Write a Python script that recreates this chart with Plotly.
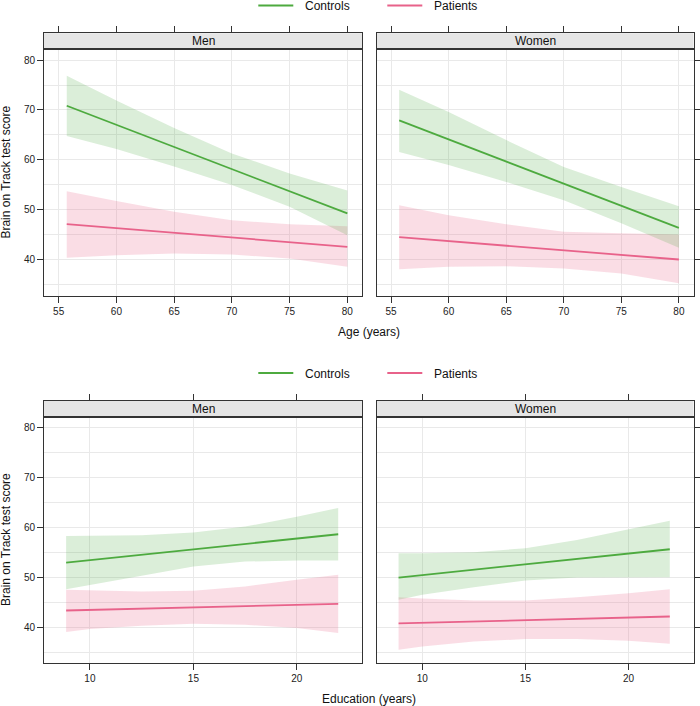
import plotly.graph_objects as go

W, H = 700, 706
FONT = "Liberation Sans, Arial, sans-serif"
GREEN = "#4DAA3F"
PINK = "#E8628A"
GREEN_FILL = "rgba(77,170,63,0.20)"
PINK_FILL = "rgba(232,98,138,0.22)"

groups = ["\u00a0\u00a0Controls", "\u00a0\u00a0Patients"]
sexes = ["Men", "Women"]

# ---- Age panels ----
age_grid = [55.7, 60, 65, 70, 75, 80]
age_line_x = [55.7, 80]
age_men_ctrl_line = [70.84, 49.28]
age_men_ctrl_up = [76.85, 71.9, 66.4, 61.3, 57.3, 53.9]
age_men_ctrl_lo = [64.8, 62.2, 58.7, 55.0, 50.6, 44.9]
age_men_pat_line = [47.13, 42.6]
age_men_pat_up = [53.75, 51.75, 49.6, 47.9, 47.1, 46.7]
age_men_pat_lo = [40.4, 40.9, 41.25, 41.05, 40.25, 38.6]
age_wom_ctrl_line = [67.9, 46.4]
age_wom_ctrl_up = [74.05, 69.6, 63.97, 58.6, 54.6, 50.74]
age_wom_ctrl_lo = [61.6, 59.0, 55.6, 51.9, 47.3, 42.4]
age_wom_pat_line = [44.53, 40.06]
age_wom_pat_up = [50.9, 48.9, 47.1, 45.6, 45.3, 45.07]
age_wom_pat_lo = [38.1, 38.6, 38.7, 38.25, 37.25, 35.3]

# ---- Education panels ----
edu_grid = [8.85, 10, 12.5, 15, 17.5, 20, 22]
edu_line_x = [8.85, 22]
edu_men_ctrl_line = [52.93, 58.6]
edu_men_ctrl_up = [58.27, 58.27, 58.4, 58.93, 60.13, 62.13, 63.87]
edu_men_ctrl_lo = [47.6, 48.47, 50.27, 52.13, 53.13, 53.33, 53.33]
edu_men_pat_line = [43.33, 44.67]
edu_men_pat_up = [47.47, 47.33, 47.13, 47.27, 48.13, 49.47, 50.47]
edu_men_pat_lo = [39.0, 39.6, 40.27, 40.67, 40.47, 39.8, 38.8]
edu_wom_ctrl_line = [49.93, 55.6]
edu_wom_ctrl_up = [54.8, 54.8, 55.0, 55.8, 57.47, 59.6, 61.33]
edu_wom_ctrl_lo = [45.47, 46.47, 48.0, 49.33, 49.93, 50.0, 50.0]
edu_wom_pat_line = [40.73, 42.13]
edu_wom_pat_up = [46.0, 45.73, 45.33, 45.33, 46.0, 46.8, 47.6]
edu_wom_pat_lo = [35.47, 36.13, 37.13, 37.6, 37.6, 37.27, 36.67]

age_ticks = [55, 60, 65, 70, 75, 80]
edu_ticks = [10, 15, 20]
y_ticks = [40, 50, 60, 70, 80]

def px(x):
    return x / W

def py(y):
    return 1 - y / H

fig = go.Figure()

panels = [
    (1, age_grid, age_line_x, [(age_men_ctrl_line, age_men_ctrl_up, age_men_ctrl_lo),
                               (age_men_pat_line, age_men_pat_up, age_men_pat_lo)], "legend", True),
    (2, age_grid, age_line_x, [(age_wom_ctrl_line, age_wom_ctrl_up, age_wom_ctrl_lo),
                               (age_wom_pat_line, age_wom_pat_up, age_wom_pat_lo)], "legend", False),
    (3, edu_grid, edu_line_x, [(edu_men_ctrl_line, edu_men_ctrl_up, edu_men_ctrl_lo),
                               (edu_men_pat_line, edu_men_pat_up, edu_men_pat_lo)], "legend2", True),
    (4, edu_grid, edu_line_x, [(edu_wom_ctrl_line, edu_wom_ctrl_up, edu_wom_ctrl_lo),
                               (edu_wom_pat_line, edu_wom_pat_up, edu_wom_pat_lo)], "legend2", False),
]

colors = [GREEN, PINK]
fills = [GREEN_FILL, PINK_FILL]

for idx, grid, lx, series, leg, show in panels:
    xa = "x" if idx == 1 else f"x{idx}"
    ya = "y" if idx == 1 else f"y{idx}"
    for gi in [1, 0]:
        line, up, lo = series[gi]
        fig.add_trace(go.Scatter(
            x=list(grid) + list(grid)[::-1], y=list(up) + list(lo)[::-1],
            fill="toself", fillcolor=fills[gi], line=dict(width=0),
            mode="lines", hoverinfo="skip", showlegend=False,
            xaxis=xa, yaxis=ya))
    for gi in [0, 1]:
        line, up, lo = series[gi]
        fig.add_trace(go.Scatter(
            x=lx, y=line, mode="lines", line=dict(color=colors[gi], width=1.8),
            name=groups[gi], showlegend=show, legend=leg,
            xaxis=xa, yaxis=ya))

L = [px(44), px(362)]
R = [px(376.5), px(693.5)]
TOP = [py(296), py(49.3)]
BOT = [py(663.3), py(416.7)]
STRIP_TOP = [py(49.3), py(33.3)]
STRIP_BOT = [py(416.7), py(401)]

AX = "#333333"
GRID = "#e9e9e9"
tickfont = dict(family=FONT, size=10, color="#222222")

def xaxis(domain, rng, ticks, anchor):
    return dict(domain=domain, range=rng, tickvals=ticks, ticks="outside", ticklen=6,
                tickcolor=AX, showline=True, linecolor=AX, linewidth=1, mirror=True,
                showgrid=True, gridcolor=GRID, gridwidth=1, zeroline=False,
                tickfont=tickfont, anchor=anchor, fixedrange=True)

def yaxis(domain, anchor, side, labels):
    return dict(domain=domain, range=[32.75, 82.15], tickvals=y_ticks, ticks="outside",
                ticklen=6, tickcolor=AX, showline=True, linecolor=AX, linewidth=1,
                mirror=True, showgrid=True, gridcolor=GRID, gridwidth=1, zeroline=False,
                minor=dict(dtick=5, tick0=0, showgrid=True, gridcolor=GRID, gridwidth=1, ticks=""),
                tickfont=tickfont, side=side, showticklabels=labels, anchor=anchor,
                fixedrange=True)

age_rng = [53.73, 81.27]
edu_rng = [7.78, 23.15]

layout = dict(
    width=W, height=H, margin=dict(l=0, r=0, t=0, b=0, autoexpand=False),
    paper_bgcolor="white", plot_bgcolor="white",
    font=dict(family=FONT, size=12, color="#222222"),
    xaxis=xaxis(L, age_rng, age_ticks, "y"),
    xaxis2=xaxis(R, age_rng, age_ticks, "y2"),
    xaxis3=xaxis(L, edu_rng, edu_ticks, "y3"),
    xaxis4=xaxis(R, edu_rng, edu_ticks, "y4"),
    yaxis=yaxis(TOP, "x", "left", True),
    yaxis2=yaxis(TOP, "x2", "right", False),
    yaxis3=yaxis(BOT, "x3", "left", True),
    yaxis4=yaxis(BOT, "x4", "right", False),
)

# strip subplots: their x axes carry the top tick marks above each strip
strip_defs = [(L, STRIP_TOP, age_rng, age_ticks, "Men"),
              (R, STRIP_TOP, age_rng, age_ticks, "Women"),
              (L, STRIP_BOT, edu_rng, edu_ticks, "Men"),
              (R, STRIP_BOT, edu_rng, edu_ticks, "Women")]
for i, (xd, yd, rng, ticks, label) in enumerate(strip_defs):
    n = 5 + i
    layout[f"xaxis{n}"] = dict(domain=xd, range=rng, tickvals=ticks, side="top",
                               ticks="outside", ticklen=6, tickcolor=AX,
                               showticklabels=False, showline=True, linecolor=AX,
                               linewidth=1, mirror=True, showgrid=False, zeroline=False,
                               anchor=f"y{n}", fixedrange=True)
    layout[f"yaxis{n}"] = dict(domain=yd, range=[0, 1], showticklabels=False, ticks="",
                               showline=True, linecolor=AX, linewidth=1, mirror=True,
                               showgrid=False, zeroline=False, anchor=f"x{n}",
                               fixedrange=True)

fig.update_layout(**layout)

shapes = []
annots = []
for i, (xd, yd, rng, ticks, label) in enumerate(strip_defs):
    n = 5 + i
    shapes.append(dict(type="rect", xref=f"x{n} domain", yref=f"y{n} domain",
                       x0=0, x1=1, y0=0, y1=1, fillcolor="#e5e5e5",
                       line=dict(width=0), layer="below"))
    fig.add_trace(go.Scatter(x=[rng[0]], y=[0.5], mode="markers",
                             marker=dict(opacity=0), showlegend=False, hoverinfo="skip",
                             xaxis=f"x{n}", yaxis=f"y{n}"))
    annots.append(dict(xref=f"x{n} domain", yref=f"y{n} domain", x=0.5, y=0.5,
                       text=label, showarrow=False,
                       font=dict(family=FONT, size=12, color="#111"),
                       xanchor="center", yanchor="middle"))

annots += [
    dict(xref="paper", yref="paper", x=px(368.5), y=py(331.5), text="Age (years)",
         showarrow=False, font=dict(family=FONT, size=12, color="#111"),
         xanchor="center", yanchor="middle"),
    dict(xref="paper", yref="paper", x=px(368.5), y=py(698.5), text="Education (years)",
         showarrow=False, font=dict(family=FONT, size=12, color="#111"),
         xanchor="center", yanchor="middle"),
    dict(xref="paper", yref="paper", x=px(6), y=py(172.6), text="Brain on Track test score",
         showarrow=False, textangle=-90, font=dict(family=FONT, size=12, color="#111"),
         xanchor="center", yanchor="middle"),
    dict(xref="paper", yref="paper", x=px(6), y=py(540), text="Brain on Track test score",
         showarrow=False, textangle=-90, font=dict(family=FONT, size=12, color="#111"),
         xanchor="center", yanchor="middle"),
]

leg_common = dict(orientation="h", xanchor="left", yanchor="middle",
                  font=dict(family=FONT, size=12, color="#111"), bgcolor="rgba(0,0,0,0)",
                  entrywidth=79, entrywidthmode="pixels", itemwidth=35, borderwidth=0)
fig.update_layout(shapes=shapes, annotations=annots,
                  legend=dict(x=px(253.3), y=py(5.5), **leg_common),
                  legend2=dict(x=px(253.3), y=py(373), **leg_common))

fig.write_html("out.html", config={"displayModeBar": False},
               post_script="document.body.style.margin='0';document.body.style.overflow='hidden';")
